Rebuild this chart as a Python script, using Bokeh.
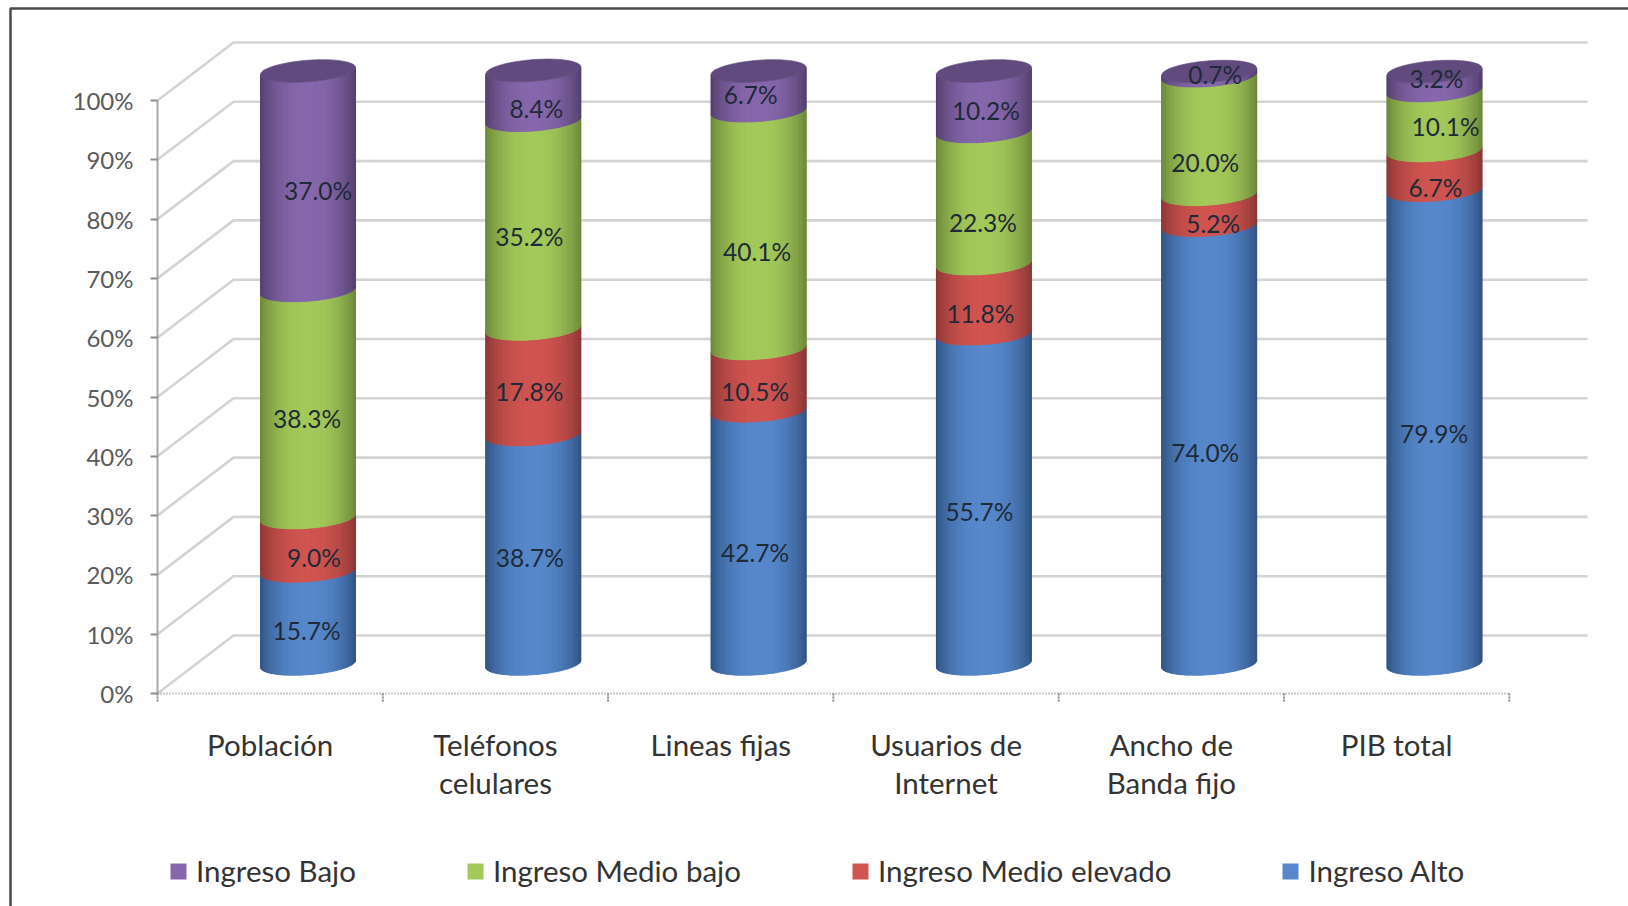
from bokeh.embed import file_html
from bokeh.resources import INLINE
from bokeh.plotting import figure
from bokeh.models import (ColumnDataSource, FixedTicker, Legend, LegendItem,
                          LinearAxis, Range1d)
from bokeh.core.properties import value
import math

categories = ["Población", "Teléfonos\ncelulares", "Lineas fijas",
              "Usuarios de\nInternet", "Ancho de\nBanda fijo", "PIB total"]
ingreso_alto = [15.7, 38.7, 42.7, 55.7, 74.0, 79.9]
ingreso_medio_elevado = [9.0, 17.8, 10.5, 11.8, 5.2, 6.7]
ingreso_medio_bajo = [38.3, 35.2, 40.1, 22.3, 20.0, 10.1]
ingreso_bajo = [37.0, 8.4, 6.7, 10.2, 0.7, 3.2]
percent_ticks = list(range(0, 101, 10))

# (name, values, face colour, edge colour), stacked from the bottom up
series = [
    ("Ingreso Alto", ingreso_alto, (86, 136, 203), (50, 84, 132)),
    ("Ingreso Medio elevado", ingreso_medio_elevado, (208, 84, 80), (140, 56, 54)),
    ("Ingreso Medio bajo", ingreso_medio_bajo, (163, 201, 90), (108, 136, 58)),
    ("Ingreso Bajo", ingreso_bajo, (134, 103, 172), (84, 64, 110)),
]

# Label offsets from each segment's middle, in screen pixels
label_nudge = {
    "Ingreso Alto": [(-1.5, 13), (-3.5, 8), (-3.5, 15), (-4.5, 13), (-4, 8), (-0.5, 6)],
    "Ingreso Medio elevado": [(6, 13), (-4, 10), (-3.5, 12), (-3.5, 15), (4, 14), (1, 17)],
    "Ingreso Medio bajo": [(-1, 15), (-4, 12), (-1.5, 22), (-1, 25), (-4, 27), (11, 6)],
    "Ingreso Bajo": [(10, 10), (3, 13), (-8, 4), (2, 9), (6, 1), (2, -3)],
}

W, H = 1628, 906
AXIS_X, AXIS_Y = 157.0, 693.0      # pixel position of the origin
PX_PER_CAT, PX_PER_PCT = 225.3, 5.93
DEPTH_X, DEPTH_Y = 76 / PX_PER_CAT, 58 / PX_PER_PCT   # back wall offset
BAR_CENTRE = 150.5 / PX_PER_CAT    # cylinder centre within a category
BAR_HALF = 47.5 / PX_PER_CAT
BAR_LIFT = 29.5 / PX_PER_PCT       # cylinder floor above the front edge
TILT = 3.5 / PX_PER_PCT            # end-ellipse slope across a half width
MINOR = 10.8 / PX_PER_PCT          # end-ellipse minor semi-axis
TICK_LEN = 8 / PX_PER_PCT
STRIPS = 44

p = figure(width=W, height=H, output_backend="svg", toolbar_location=None,
           x_range=Range1d(-AXIS_X / PX_PER_CAT, (W - AXIS_X) / PX_PER_CAT),
           y_range=Range1d((AXIS_Y - H) / PX_PER_PCT, AXIS_Y / PX_PER_PCT),
           x_axis_type=None, y_axis_type=None, min_border=0,
           outline_line_color=None, background_fill_color="white")
p.grid.visible = False

# Outer border: left and top edges only
to_x = lambda px: (px - AXIS_X) / PX_PER_CAT
to_y = lambda py: (AXIS_Y - py) / PX_PER_PCT
p.line([to_x(10), to_x(10), to_x(W)], [to_y(H), to_y(8), to_y(8)],
       line_color="#4a4a4a", line_width=2.5)

# Back wall gridlines and their diagonals up from the value axis
n_cat = len(categories)
wall_right = to_x(1587)
p.multi_line([[0, DEPTH_X, wall_right] for _ in percent_ticks],
             [[t, t + DEPTH_Y, t + DEPTH_Y] for t in percent_ticks],
             line_color="#d4d4d4", line_width=2.6)


def front_arc(cx, level):
    """Front half of a tilted end ellipse at a stacked level."""
    pts = []
    for k in range(STRIPS + 1):
        t = math.pi - math.pi * k / STRIPS
        pts.append((cx + BAR_HALF * math.cos(t),
                    level + BAR_LIFT + TILT * math.cos(t) - MINOR * math.sin(t)))
    return pts


def shade(face, edge, u):
    w = min(1.0, abs(u) ** 2.4)
    r, g, b = (round(f + (e - f) * w) for f, e in zip(face, edge))
    return f"#{r:02x}{g:02x}{b:02x}"


legend_renderers = {}
label_rows = dict(x=[], y=[], text=[], dx=[], dy=[])
bottoms = [0.0] * n_cat
for name, values, face, edge in series:
    body_xs, body_ys, strip_xs, strip_ys, strip_col = [], [], [], [], []
    for i, v in enumerate(values):
        cx = i + BAR_CENTRE
        low = front_arc(cx, bottoms[i])
        high = front_arc(cx, bottoms[i] + v)
        body_xs.append([q[0] for q in low] + [q[0] for q in high[::-1]])
        body_ys.append([q[1] for q in low] + [q[1] for q in high[::-1]])
        for k in range(STRIPS):
            strip_xs.append([low[k][0], low[k + 1][0], high[k + 1][0], high[k][0]])
            strip_ys.append([low[k][1], low[k + 1][1], high[k + 1][1], high[k][1]])
            u = ((low[k][0] + low[k + 1][0]) / 2 - cx) / BAR_HALF
            strip_col.append(shade(face, edge, u))
        label_rows["x"].append(cx)
        label_rows["y"].append(bottoms[i] + v / 2 + BAR_LIFT)
        label_rows["text"].append(f"{v:.1f}%")
        label_rows["dx"].append(label_nudge[name][i][0])
        label_rows["dy"].append(label_nudge[name][i][1])
        bottoms[i] += v
    legend_renderers[name] = p.patches(body_xs, body_ys, fill_color=f"#{face[0]:02x}{face[1]:02x}{face[2]:02x}",
                                       line_color=None)
    p.patches(strip_xs, strip_ys, fill_color=strip_col, line_color=strip_col, line_width=0.6)

# Top caps of the cylinders
cap_xs, cap_ys = [], []
for i, top in enumerate(bottoms):
    cx = i + BAR_CENTRE
    xs, ys = [], []
    for k in range(72):
        t = 2 * math.pi * k / 72
        xs.append(cx + BAR_HALF * math.cos(t))
        ys.append(top + BAR_LIFT + TILT * math.cos(t) + MINOR * math.sin(t))
    cap_xs.append(xs)
    cap_ys.append(ys)
p.patches(cap_xs, cap_ys, fill_color="#614a7d", line_color="#614a7d", line_width=0.6)

# Value labels on the segments
p.text("x", "y", "text", source=ColumnDataSource(label_rows), x_offset="dx", y_offset="dy",
       text_font=value("Lato"), text_font_size="24.5px", text_color="#1f2a38",
       text_align="center", text_baseline="middle")

# Value axis
y_axis = LinearAxis(ticker=FixedTicker(ticks=percent_ticks), fixed_location=0, bounds=(0, 100),
                    major_label_overrides={t: f"{t}%" for t in percent_ticks})
y_axis.axis_line_color = "#a8a8a8"
y_axis.axis_line_width = 2
y_axis.major_tick_line_color = "#8c8c8c"
y_axis.major_tick_line_width = 2
y_axis.major_tick_in = 0
y_axis.major_tick_out = 7
y_axis.minor_tick_line_color = None
y_axis.major_label_standoff = 17
y_axis.major_label_text_font = "Lato"
y_axis.major_label_text_font_size = "24px"
y_axis.major_label_text_color = "#5a5a5a"
p.add_layout(y_axis, "left")

# Category baseline: dotted, with tick marks between categories
boundaries = list(range(n_cat + 1))
p.line([0, n_cat], [0, 0], line_color="#8c8c8c", line_width=2, line_dash="1 2")
p.segment(boundaries, [0] * len(boundaries), boundaries, [-TICK_LEN] * len(boundaries),
          line_color="#8c8c8c", line_width=2, line_dash="2 1")

# Category names, with the line pitch the two-line names need
p.text([i + 0.5 for i in range(n_cat)], [0] * n_cat, text=categories, y_offset=33,
       text_font=value("Lato"), text_font_size="29.5px", text_color="#333333",
       text_align="center", text_baseline="top", text_line_height=1.11)

legend = Legend(items=[LegendItem(label=value(s[0]), renderers=[legend_renderers[s[0]]])
                       for s in reversed(series)],
                orientation="horizontal", location=(168, 18), padding=2, margin=0,
                spacing=109, glyph_width=20, glyph_height=20, label_standoff=8,
                label_text_font="Lato", label_text_font_size="29.5px",
                label_text_color="#333333", background_fill_alpha=0, border_line_color=None)
p.add_layout(legend, "center")

open("out.html", "w").write(file_html(p, INLINE))
